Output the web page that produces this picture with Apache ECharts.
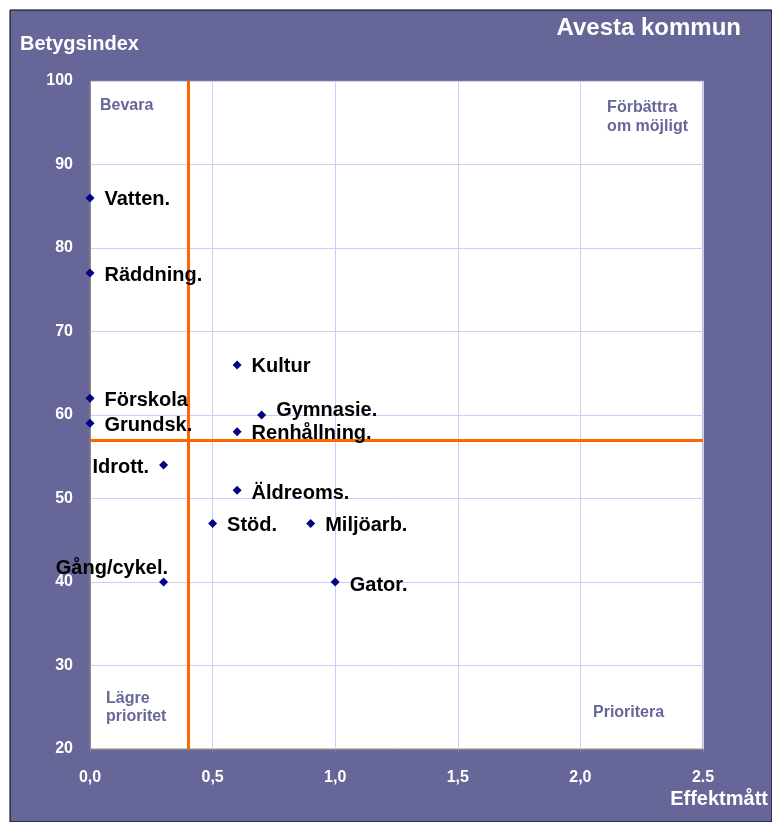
<!DOCTYPE html>
<html>
<head>
<meta charset="utf-8">
<title>Avesta kommun</title>
<script src="https://cdn.jsdelivr.net/npm/echarts@6/dist/echarts.min.js"></script>
<style>
  html, body { margin: 0; padding: 0; background: #fff; }
  #chart { width: 772px; height: 822px; }
</style>
</head>
<body>
<div id="chart"></div>
<script>
// verksamheter, effektmått (x) och betygsindex (y)
var names  = ['Vatten.', 'Räddning.', 'Kultur', 'Förskola', 'Gymnasie.', 'Grundsk.', 'Renhållning.',
              'Idrott.', 'Äldreoms.', 'Stöd.', 'Miljöarb.', 'Gång/cykel.', 'Gator.'];
var effekt = [0, 0, 0.6, 0, 0.7, 0, 0.6, 0.3, 0.6, 0.5, 0.9, 0.3, 1.0];
var betyg  = [86, 77, 66, 62, 60, 59, 58, 54, 51, 47, 47, 40, 40];

var xTickLabels = ['0,0', '0,5', '1,0', '1,5', '2,0', '2.5'];
var yTickLabels = ['20', '30', '40', '50', '60', '70', '80', '90', '100'];

// gränslinjer
var effektGrans = 0.4;
var betygGrans = 57;

var font = '"Liberation Sans", Arial, sans-serif';

// etiketter som inte ligger till höger om punkten
var labelFix = {
  'Idrott.': { position: 'left', distance: 10 },
  'Gång/cykel.': { position: [9, -11], align: 'right', verticalAlign: 'middle' },
  'Gymnasie.': { offset: [0, -5] },
  'Äldreoms.': { offset: [0, 3] },
  'Gator.': { offset: [0, 3] }
};

var points = names.map(function (n, i) {
  var d = { name: n, value: [effekt[i], betyg[i]] };
  if (labelFix[n]) d.label = labelFix[n];
  return d;
});

var chart = echarts.init(document.getElementById('chart'));

var option = {
  backgroundColor: '#ffffff',
  animation: false,
  graphic: [
    { type: 'rect', z: -10, shape: { x: 10, y: 10, width: 762, height: 812 },
      style: { fill: '#666699', stroke: '#000', lineWidth: 1 } },
    { type: 'text', left: 20, top: 34,
      style: { text: 'Betygsindex', fill: '#fff', font: 'bold 20px ' + font } },
    { type: 'text', right: 31, top: 16,
      style: { text: 'Avesta kommun', fill: '#fff', font: 'bold 24px ' + font } },
    { type: 'text', right: 4, top: 789,
      style: { text: 'Effektmått', fill: '#fff', font: 'bold 20px ' + font } },
    { type: 'text', left: 100, top: 98, z: 10,
      style: { text: 'Bevara', fill: '#666699', font: 'bold 16px ' + font } },
    { type: 'text', right: 84, top: 98, z: 10,
      style: { text: 'Förbättra\nom möjligt', fill: '#666699', font: 'bold 16px ' + font,
               align: 'right', lineHeight: 19 } },
    { type: 'text', left: 106, top: 690, z: 10,
      style: { text: 'Lägre\nprioritet', fill: '#666699', font: 'bold 16px ' + font, lineHeight: 18 } },
    { type: 'text', left: 593, top: 705, z: 10,
      style: { text: 'Prioritera', fill: '#666699', font: 'bold 16px ' + font } }
  ],
  grid: {
    left: 90, top: 81, right: 69, bottom: 73,
    show: true, backgroundColor: '#ffffff', borderColor: '#888888', borderWidth: 1
  },
  xAxis: {
    type: 'value', min: 0, max: 2.5, interval: 0.5,
    axisLine: { lineStyle: { color: '#888888' } },
    axisTick: { show: true, length: 3, lineStyle: { color: '#888888' } },
    splitLine: { lineStyle: { color: '#ccccff' } },
    axisLabel: {
      color: '#fff', fontWeight: 'bold', fontSize: 16, fontFamily: font, margin: 21,
      formatter: function (v) { return xTickLabels[Math.round(v / 0.5)]; }
    }
  },
  yAxis: {
    type: 'value', min: 20, max: 100, interval: 10,
    axisLine: { show: true, lineStyle: { color: '#888888' } },
    axisTick: { show: false },
    splitLine: { lineStyle: { color: '#ccccff' } },
    axisLabel: {
      color: '#fff', fontWeight: 'bold', fontSize: 16, fontFamily: font, margin: 17,
      formatter: function (v) { return yTickLabels[Math.round((v - 20) / 10)]; }
    }
  },
  series: [{
    type: 'scatter',
    symbol: 'diamond',
    symbolSize: 9,
    itemStyle: { color: '#000080', opacity: 1 },
    data: points,
    z: 5,
    label: {
      show: true,
      position: 'right',
      distance: 10,
      offset: [0, 2],
      formatter: '{b}',
      color: '#000000',
      fontWeight: 'bold',
      fontSize: 20,
      fontFamily: font
    },
    markLine: {
      silent: true,
      symbol: 'none',
      label: { show: false },
      lineStyle: { color: '#ff6600', width: 3, type: 'solid', opacity: 1 },
      data: [{ xAxis: effektGrans }, { yAxis: betygGrans }]
    }
  }]
};

chart.setOption(option);
</script>
</body>
</html>
